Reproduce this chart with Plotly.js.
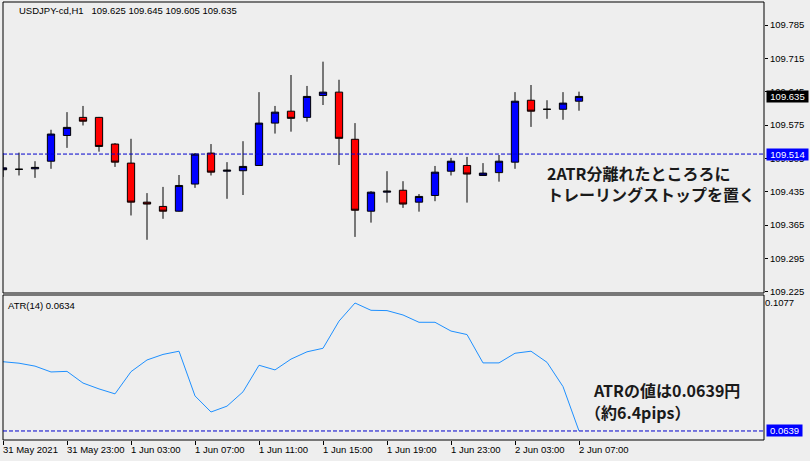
<!DOCTYPE html>
<html>
<head>
<meta charset="utf-8">
<script src="https://cdn.plot.ly/plotly-3.0.1.min.js"></script>
<style>html,body{margin:0;padding:0;background:#EEEEEE;}#chart{width:810px;height:461px;}</style>
</head>
<body>
<div id="chart"></div>
<script>
// ---- data ----
const times = [
 "31 May 19:00","31 May 20:00","31 May 21:00","31 May 22:00","31 May 23:00",
 "1 Jun 00:00","1 Jun 01:00","1 Jun 02:00","1 Jun 03:00","1 Jun 04:00","1 Jun 05:00","1 Jun 06:00",
 "1 Jun 07:00","1 Jun 08:00","1 Jun 09:00","1 Jun 10:00","1 Jun 11:00","1 Jun 12:00","1 Jun 13:00",
 "1 Jun 14:00","1 Jun 15:00","1 Jun 16:00","1 Jun 17:00","1 Jun 18:00","1 Jun 19:00","1 Jun 20:00",
 "1 Jun 21:00","1 Jun 22:00","1 Jun 23:00","2 Jun 00:00","2 Jun 01:00","2 Jun 02:00","2 Jun 03:00",
 "2 Jun 04:00","2 Jun 05:00","2 Jun 06:00","2 Jun 07:00"
];
const open  = [109.481,109.482,109.483,109.499,109.553,109.591,109.591,109.535,109.495,109.413,109.404,109.394,
               109.451,109.516,109.478,109.479,109.490,109.579,109.604,109.591,109.637,109.644,109.545,109.394,
               109.434,109.438,109.413,109.427,109.478,109.490,109.469,109.475,109.497,109.627,109.608,109.608,109.625];
const high  = [109.516,109.517,109.499,109.565,109.602,109.615,109.592,109.537,109.546,109.432,109.445,109.470,
               109.516,109.535,109.497,109.541,109.644,109.615,109.680,109.657,109.708,109.670,109.579,109.436,
               109.478,109.457,109.430,109.489,109.506,109.508,109.495,109.512,109.644,109.659,109.627,109.644,109.645];
const low   = [109.466,109.469,109.464,109.483,109.527,109.574,109.519,109.487,109.385,109.334,109.378,109.393,
               109.443,109.469,109.420,109.428,109.489,109.557,109.561,109.582,109.617,109.491,109.340,109.370,
               109.412,109.401,109.393,109.415,109.469,109.412,109.469,109.456,109.483,109.571,109.588,109.586,109.605];
const close = [109.485,109.482,109.486,109.556,109.570,109.583,109.530,109.497,109.413,109.409,109.394,109.448,
               109.514,109.476,109.480,109.488,109.579,109.602,109.589,109.635,109.644,109.547,109.396,109.434,
               109.436,109.409,109.425,109.476,109.499,109.472,109.474,109.499,109.625,109.604,109.608,109.621,109.635];
const atr   = [0.0876,0.0871,0.0861,0.0841,0.0843,0.0803,0.0783,0.0766,0.0842,0.0882,0.0901,0.0912,
               0.0759,0.0704,0.0724,0.0773,0.0864,0.0848,0.0885,0.0910,0.0922,0.1015,0.1077,0.1052,
               0.1051,0.1036,0.1011,0.1011,0.0981,0.0969,0.0872,0.0872,0.0905,0.0912,0.0874,0.0791,0.0639];
const stopLevel = 109.514;
const atrLast = 0.0639;
const atrMaxLabel = 0.1077;
const priceTicks = [109.225,109.295,109.365,109.435,109.505,109.575,109.645,109.715,109.785];
const timeTickIdx = [0,4,8,12,16,20,24,28,32,36];
const timeTickText = ["31 May 2021","31 May 23:00","1 Jun 03:00","1 Jun 07:00","1 Jun 11:00",
                      "1 Jun 15:00","1 Jun 19:00","1 Jun 23:00","2 Jun 03:00","2 Jun 07:00"];
const headerText = "USDJPY-cd,H1\u00a0\u00a0 109.625 109.645 109.605 109.635";
const atrTitle = "ATR(14) 0.0634";
const note1 = "2ATR分離れたところろに<br>トレーリングストップを置く";
const note2a = "ATRの値は0.0639円";
const note2b = "（約6.4pips）";

// ---- layout helpers (pixel -> paper) ----
const L = 3, R = 764, T = 2, B = 440;
const W = R - L, H = B - T;
const px = x => (x - L) / W;
const py = y => (B - y) / H;

const FONT = '"Liberation Sans", Arial, sans-serif';
const FS = 9.5;
const JFONT = '"Noto Sans CJK JP", "Noto Sans", sans-serif';

const candle = {
  type: 'candlestick', x: times, open: open, high: high, low: low, close: close,
  xaxis: 'x', yaxis: 'y',
  increasing: {line: {color: '#000000', width: 1}, fillcolor: '#0000FF'},
  decreasing: {line: {color: '#000000', width: 1}, fillcolor: '#FF0000'},
  whiskerwidth: 0, showlegend: false, hoverinfo: 'skip'
};
const atrTrace = {
  type: 'scatter', mode: 'lines', x: times, y: atr, xaxis: 'x', yaxis: 'y2',
  line: {color: '#1E90FF', width: 1}, showlegend: false, hoverinfo: 'skip'
};

const topDomLow = py(293), botDomHigh = py(295);

const timeLabelAnns = timeTickIdx.map((idx, k) => ({
  xref: 'x', yref: 'paper', x: times[idx], y: py(449.5), xanchor: 'left', yanchor: 'middle',
  xshift: -1, text: timeTickText[k], showarrow: false, borderpad: 0,
  font: {family: FONT, size: FS, color: '#000000'}
}));

const layout = {
  width: 810, height: 461,
  margin: {l: L, r: 810 - R, t: T, b: 461 - B, pad: 0},
  paper_bgcolor: '#EEEEEE', plot_bgcolor: '#EEEEEE',
  showlegend: false, hovermode: false, boxgap: 0.35,
  font: {family: FONT, size: FS, color: '#000000'},
  xaxis: {
    type: 'category', anchor: 'y2', range: [0, W / 16],
    rangeslider: {visible: false},
    showgrid: false, zeroline: false, showline: false,
    tickmode: 'array', tickvals: timeTickIdx.map(i => times[i]), showticklabels: false,
    ticks: 'outside', ticklen: 4, tickwidth: 1, tickcolor: '#000000'
  },
  yaxis: {
    domain: [topDomLow, 1], anchor: 'x', side: 'right',
    range: [109.785 - 268 / 476.2, 109.785 + 23 / 476.2],
    showgrid: false, zeroline: false, showline: false,
    tickmode: 'array', tickvals: priceTicks, ticktext: priceTicks.map(v => v.toFixed(3)),
    ticks: 'outside', ticklen: 3, tickwidth: 1, tickcolor: '#000000',
    tickfont: {family: FONT, size: FS, color: '#000000'}
  },
  yaxis2: {
    domain: [0, botDomHigh], anchor: 'x', side: 'right',
    range: [atrMaxLabel - 137 / 2922, atrMaxLabel + 8 / 2922],
    showgrid: false, zeroline: false, showline: false,
    tickmode: 'array', tickvals: [atrMaxLabel], ticktext: [atrMaxLabel.toFixed(4)],
    ticks: '', tickfont: {family: FONT, size: FS, color: '#000000'}
  },
  shapes: [
    {type: 'rect', xref: 'paper', yref: 'paper', x0: 0, x1: 1, y0: topDomLow, y1: 1,
     line: {color: '#000000', width: 1}, fillcolor: 'rgba(0,0,0,0)', layer: 'above'},
    {type: 'rect', xref: 'paper', yref: 'paper', x0: 0, x1: 1, y0: 0, y1: botDomHigh,
     line: {color: '#000000', width: 1}, fillcolor: 'rgba(0,0,0,0)', layer: 'above'},
    {type: 'line', xref: 'paper', yref: 'y', x0: 0, x1: 1, y0: stopLevel, y1: stopLevel,
     line: {color: '#0000CC', width: 1, dash: '4px,2px'}, layer: 'above'},
    {type: 'line', xref: 'paper', yref: 'y2', x0: 0, x1: 1, y0: atrLast, y1: atrLast,
     line: {color: '#0000CC', width: 1, dash: '4px,2px'}, layer: 'above'}
  ],
  annotations: [
    {xref: 'paper', yref: 'paper', x: px(17), y: py(11), xanchor: 'left', yanchor: 'middle',
     text: headerText, showarrow: false, font: {family: FONT, size: FS, color: '#000000'}},
    {xref: 'paper', yref: 'paper', x: px(6), y: py(305), xanchor: 'left', yanchor: 'middle',
     text: atrTitle, showarrow: false, font: {family: FONT, size: FS, color: '#000000'}},
    {xref: 'paper', yref: 'paper', x: px(545), y: py(183.5), xanchor: 'left', yanchor: 'middle',
     align: 'left', text: note1, showarrow: false,
     font: {family: JFONT, size: 16, color: '#1a1a1a', weight: 'bold'}},
    {xref: 'paper', yref: 'paper', x: px(591), y: py(390), xanchor: 'left', yanchor: 'middle',
     align: 'left', text: note2a, showarrow: false,
     font: {family: JFONT, size: 16, color: '#1a1a1a', weight: 'bold'}},
    {xref: 'paper', yref: 'paper', x: px(583), y: py(411.5), xanchor: 'left', yanchor: 'middle',
     align: 'left', text: note2b, showarrow: false,
     font: {family: JFONT, size: 16, color: '#1a1a1a', weight: 'bold'}},
    {xref: 'paper', yref: 'y', x: 1, y: close[close.length - 1], xanchor: 'left', yanchor: 'middle',
     xshift: 2, text: close[close.length - 1].toFixed(3), showarrow: false, width: 41, height: 11,
     bgcolor: '#000000', borderpad: 0, font: {family: FONT, size: FS, color: '#FFFFFF'}},
    {xref: 'paper', yref: 'y', x: 1, y: stopLevel, xanchor: 'left', yanchor: 'middle',
     xshift: 2, text: stopLevel.toFixed(3), showarrow: false, width: 41, height: 11,
     bgcolor: '#0000FF', borderpad: 0, font: {family: FONT, size: FS, color: '#FFFFFF'}},
    {xref: 'paper', yref: 'y2', x: 1, y: atrLast, xanchor: 'left', yanchor: 'middle',
     xshift: 2, text: atrLast.toFixed(4), showarrow: false, width: 35, height: 11,
     bgcolor: '#0000FF', borderpad: 0, font: {family: FONT, size: FS, color: '#FFFFFF'}}
  ].concat(timeLabelAnns)
};

Plotly.newPlot('chart', [candle, atrTrace], layout, {staticPlot: true, displayModeBar: false});
</script>
</body>
</html>
